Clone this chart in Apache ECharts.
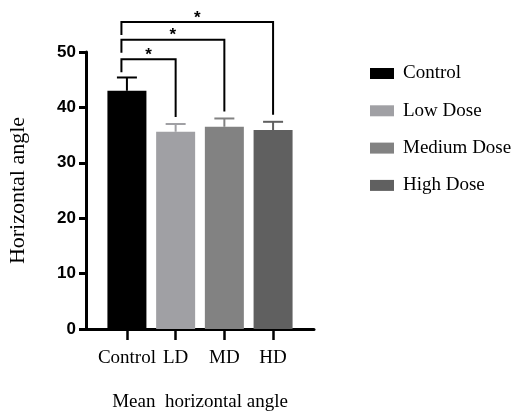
<!DOCTYPE html>
<html>
<head>
<meta charset="utf-8">
<script src="https://cdn.jsdelivr.net/npm/echarts@6/dist/echarts.min.js"></script>
<style>
html,body{margin:0;padding:0;background:#fff;}
#chart{width:516px;height:415px;}
</style>
</head>
<body>
<div id="chart"></div>
<script>
// ---- data ----
const categories = ['Control', 'LD', 'MD', 'HD'];
const seriesNames = ['Control', 'Low Dose', 'Medium Dose', 'High Dose'];
const means = [43.0, 35.6, 36.5, 35.9];
const upperErr = [45.4, 37.0, 38.0, 37.4];
const yTicks = [0, 10, 20, 30, 40, 50];
// significance brackets: Control vs target index, bracket height (axis units), label
const bracketTo = [1, 2, 3];
const bracketLevel = [48.7, 52.2, 55.4];
const bracketLabel = ['*', '*', '*'];

// ---- style ----
const colors = ['#000000', '#a0a0a4', '#828282', '#606060'];
const serif = "'Liberation Serif', 'Times New Roman', serif";
const sans = "'Liberation Sans', Arial, sans-serif";

const chart = echarts.init(document.getElementById('chart'), null, {renderer: 'canvas'});

const barSeries = seriesNames.map((name, i) => ({
  name: name,
  type: 'bar',
  data: [[i, means[i]]],
  barWidth: 39,
  barGap: '-100%',
  itemStyle: {color: colors[i]},
  z: 2
}));

const errorSeries = {
  type: 'custom',
  name: 'err',
  clip: false,
  z: 3,
  data: means.map((m, i) => [i, m, upperErr[i]]),
  renderItem: function (params, api) {
    const i = api.value(0);
    const base = api.coord([i, api.value(1)]);
    const top = api.coord([i, api.value(2)]);
    const c = colors[i];
    return {
      type: 'group',
      children: [
        {type: 'line', shape: {x1: base[0], y1: base[1], x2: top[0], y2: top[1]}, style: {stroke: c, lineWidth: 2}},
        {type: 'line', shape: {x1: top[0] - 10, y1: top[1], x2: top[0] + 10, y2: top[1]}, style: {stroke: c, lineWidth: 2}}
      ]
    };
  }
};

const bracketSeries = {
  type: 'custom',
  name: 'brackets',
  clip: false,
  z: 4,
  data: bracketTo.map((t, k) => [t, bracketLevel[k], upperErr[t], k]),
  renderItem: function (params, api) {
    const to = api.value(0);
    const level = api.value(1);
    const cap = api.value(2);
    const k = api.value(3);
    const left = api.coord([0, level]);
    const right = api.coord([to, level]);
    const rightEnd = api.coord([to, cap])[1] - 7;
    const lx = left[0] - 5.5;
    const ly = left[1];
    const rx = right[0];
    return {
      type: 'group',
      children: [
        {type: 'polyline', shape: {points: [[lx, ly + 13], [lx, ly], [rx, ly], [rx, rightEnd]]},
         style: {stroke: '#000', lineWidth: 2, fill: null}},
        {type: 'text', style: {text: bracketLabel[k], x: (lx + rx) / 2, y: ly - 4,
          align: 'center', verticalAlign: 'middle', fill: '#000',
          font: 'bold 17px ' + sans}}
      ]
    };
  }
};

const option = {
  backgroundColor: '#fff',
  animation: false,
  grid: {left: 86, right: 202, top: 52, bottom: 86, containLabel: false, outerBoundsMode: 'none'},
  legend: {
    orient: 'vertical',
    left: 365,
    top: 59,
    itemWidth: 24,
    itemHeight: 11,
    itemGap: 18.3,
    icon: 'rect',
    data: seriesNames,
    textStyle: {fontFamily: serif, fontSize: 19, color: '#000', padding: [0, 0, 0, 4]}
  },
  xAxis: {
    type: 'value',
    min: -0.84,
    max: 3.84,
    name: 'Mean  horizontal angle',
    nameLocation: 'middle',
    nameGap: 64,
    nameTextStyle: {fontFamily: serif, fontSize: 19, color: '#000'},
    axisLine: {show: true, onZero: false, lineStyle: {color: '#000', width: 3}},
    axisTick: {show: true, customValues: [0, 1, 2, 3], length: 11, lineStyle: {color: '#000', width: 2.5}},
    axisLabel: {
      customValues: [0, 1, 2, 3],
      formatter: v => categories[Math.round(v)],
      margin: 20,
      fontFamily: serif, fontSize: 19, color: '#000'
    },
    splitLine: {show: false}
  },
  yAxis: {
    type: 'value',
    min: yTicks[0],
    max: yTicks[yTicks.length - 1],
    interval: 10,
    name: 'Horizontal angle',
    nameLocation: 'middle',
    nameRotate: 90,
    nameGap: 57,
    nameTextStyle: {fontFamily: serif, fontSize: 22, color: '#000'},
    axisLine: {show: true, onZero: false, lineStyle: {color: '#000', width: 3}},
    axisTick: {show: true, length: 7, lineStyle: {color: '#000', width: 3}},
    axisLabel: {margin: 10, fontFamily: sans, fontWeight: 'bold', fontSize: 17, color: '#000'},
    splitLine: {show: false}
  },
  series: barSeries.concat([errorSeries, bracketSeries])
};

chart.setOption(option);
</script>
</body>
</html>
